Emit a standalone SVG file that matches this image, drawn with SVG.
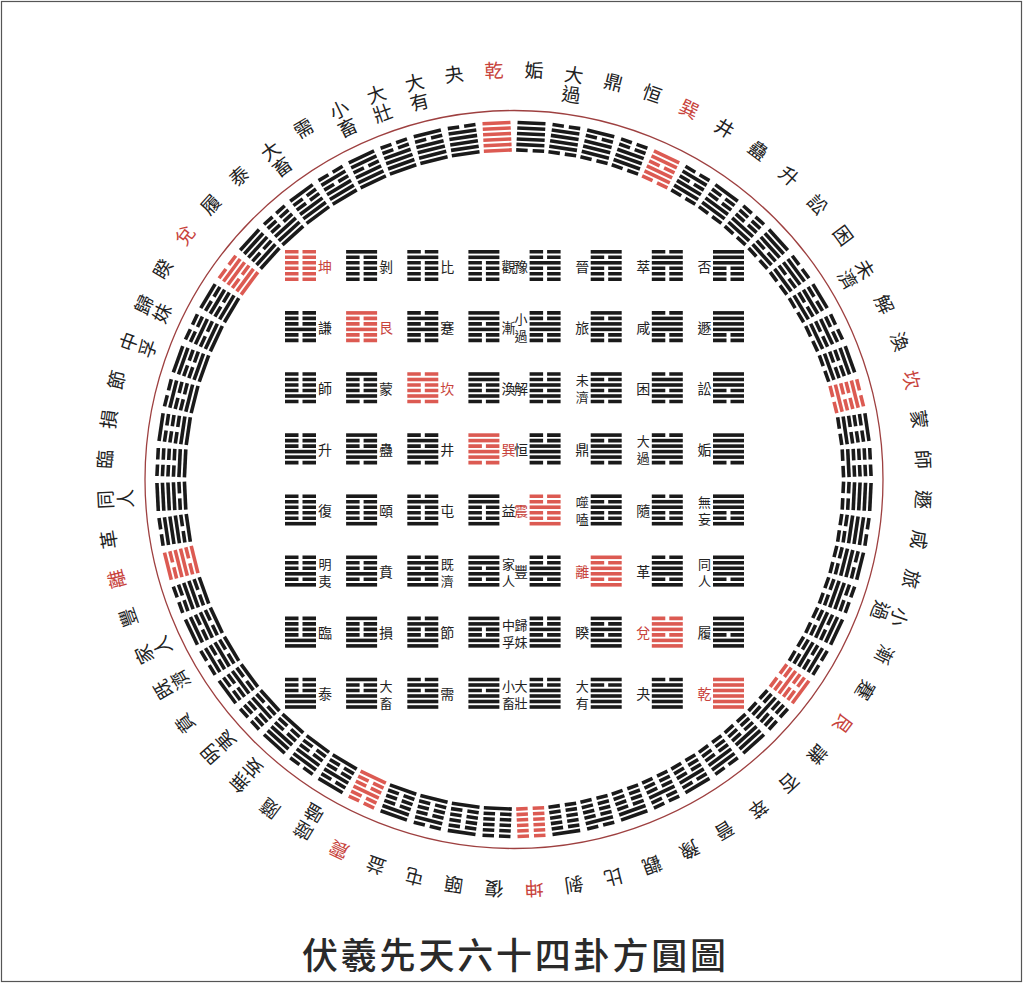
<svg xmlns="http://www.w3.org/2000/svg" xmlns:xlink="http://www.w3.org/1999/xlink" width="1023" height="983" viewBox="0 0 1023 983">
<style>
text{font-family:"Noto Sans CJK TC","Noto Sans CJK SC",sans-serif;text-anchor:middle;dominant-baseline:central;fill:#222}
.s{font-size:14px}
.s2{font-size:13px}
.c{font-size:19px}
.K{fill:#1a1a1a}
.R{fill:#dc5a52}
.R text{fill:#c8433c}
.t{font-size:36px;text-anchor:start;letter-spacing:2.8px;font-weight:500;fill:#2a2a2a}
</style>
<defs>
<path id="s1" d="M0 0h31v3.6H0z"/>
<path id="s0" d="M0 0h13.5v3.6H0zM17.5 0H31v3.6H17.5z"/>
<g id="s-k"><use href="#s0"/><use href="#s0" y="5.5"/><use href="#s0" y="11"/></g>
<g id="s-g"><use href="#s1"/><use href="#s0" y="5.5"/><use href="#s0" y="11"/></g>
<g id="s-c"><use href="#s0"/><use href="#s1" y="5.5"/><use href="#s0" y="11"/></g>
<g id="s-x"><use href="#s1"/><use href="#s1" y="5.5"/><use href="#s0" y="11"/></g>
<g id="s-z"><use href="#s0"/><use href="#s0" y="5.5"/><use href="#s1" y="11"/></g>
<g id="s-l"><use href="#s1"/><use href="#s0" y="5.5"/><use href="#s1" y="11"/></g>
<g id="s-d"><use href="#s0"/><use href="#s1" y="5.5"/><use href="#s1" y="11"/></g>
<g id="s-q"><use href="#s1"/><use href="#s1" y="5.5"/><use href="#s1" y="11"/></g>
<path id="c1" d="M-14 0h28v3.6h-28z"/>
<path id="c0" d="M-14 0h11.5v3.6h-11.5zM2.5 0H14v3.6H2.5z"/>
<g id="c-k"><use href="#c0"/><use href="#c0" y="5.5"/><use href="#c0" y="11"/></g>
<g id="c-g"><use href="#c1"/><use href="#c0" y="5.5"/><use href="#c0" y="11"/></g>
<g id="c-c"><use href="#c0"/><use href="#c1" y="5.5"/><use href="#c0" y="11"/></g>
<g id="c-x"><use href="#c1"/><use href="#c1" y="5.5"/><use href="#c0" y="11"/></g>
<g id="c-z"><use href="#c0"/><use href="#c0" y="5.5"/><use href="#c1" y="11"/></g>
<g id="c-l"><use href="#c1"/><use href="#c0" y="5.5"/><use href="#c1" y="11"/></g>
<g id="c-d"><use href="#c0"/><use href="#c1" y="5.5"/><use href="#c1" y="11"/></g>
<g id="c-q"><use href="#c1"/><use href="#c1" y="5.5"/><use href="#c1" y="11"/></g>
</defs>
<rect x="1.5" y="1.5" width="1020" height="980" fill="#fff" stroke="#555" stroke-width="1.2"/>
<g id="connectors"></g>
<circle id="ring" cx="514" cy="479.5" r="369" fill="none" stroke="#9e4040" stroke-width="1.3"/>

<g id="square">
<g id="s00" class="R" transform="translate(285 250)"><use href="#s-k"/><use href="#s-k" y="16.5"/><text class="s" x="40" y="15.5">坤</text></g>
<g id="s01" class="K" transform="translate(346.1 250)"><use href="#s-g"/><use href="#s-k" y="16.5"/><text class="s" x="40" y="15.5">剝</text></g>
<g id="s02" class="K" transform="translate(407.3 250)"><use href="#s-c"/><use href="#s-k" y="16.5"/><text class="s" x="40" y="15.5">比</text></g>
<g id="s03" class="K" transform="translate(468.4 250)"><use href="#s-x"/><use href="#s-k" y="16.5"/><text class="s" x="40" y="15.5">觀</text></g>
<g id="s04" class="K" transform="translate(529.6 250)"><use href="#s-z"/><use href="#s-k" y="16.5"/><text class="s" x="-8.5" y="15.5">豫</text></g>
<g id="s05" class="K" transform="translate(590.7 250)"><use href="#s-l"/><use href="#s-k" y="16.5"/><text class="s" x="-8.5" y="15.5">晉</text></g>
<g id="s06" class="K" transform="translate(651.8 250)"><use href="#s-d"/><use href="#s-k" y="16.5"/><text class="s" x="-8.5" y="15.5">萃</text></g>
<g id="s07" class="K" transform="translate(713 250)"><use href="#s-q"/><use href="#s-k" y="16.5"/><text class="s" x="-8.5" y="15.5">否</text></g>

<g id="s10" class="K" transform="translate(285 311.1)"><use href="#s-k"/><use href="#s-g" y="16.5"/><text class="s" x="40" y="15.5">謙</text></g>
<g id="s11" class="R" transform="translate(346.1 311.1)"><use href="#s-g"/><use href="#s-g" y="16.5"/><text class="s" x="40" y="15.5">艮</text></g>
<g id="s12" class="K" transform="translate(407.3 311.1)"><use href="#s-c"/><use href="#s-g" y="16.5"/><text class="s" x="40" y="15.5">蹇</text></g>
<g id="s13" class="K" transform="translate(468.4 311.1)"><use href="#s-x"/><use href="#s-g" y="16.5"/><text class="s" x="40" y="15.5">漸</text></g>
<g id="s14" class="K" transform="translate(529.6 311.1)"><use href="#s-z"/><use href="#s-g" y="16.5"/><text class="s2"><tspan x="-8.5" y="7">小</tspan><tspan x="-8.5" y="24">過</tspan></text></g>
<g id="s15" class="K" transform="translate(590.7 311.1)"><use href="#s-l"/><use href="#s-g" y="16.5"/><text class="s" x="-8.5" y="15.5">旅</text></g>
<g id="s16" class="K" transform="translate(651.8 311.1)"><use href="#s-d"/><use href="#s-g" y="16.5"/><text class="s" x="-8.5" y="15.5">咸</text></g>
<g id="s17" class="K" transform="translate(713 311.1)"><use href="#s-q"/><use href="#s-g" y="16.5"/><text class="s" x="-8.5" y="15.5">遯</text></g>

<g id="s20" class="K" transform="translate(285 372.2)"><use href="#s-k"/><use href="#s-c" y="16.5"/><text class="s" x="40" y="15.5">師</text></g>
<g id="s21" class="K" transform="translate(346.1 372.2)"><use href="#s-g"/><use href="#s-c" y="16.5"/><text class="s" x="40" y="15.5">蒙</text></g>
<g id="s22" class="R" transform="translate(407.3 372.2)"><use href="#s-c"/><use href="#s-c" y="16.5"/><text class="s" x="40" y="15.5">坎</text></g>
<g id="s23" class="K" transform="translate(468.4 372.2)"><use href="#s-x"/><use href="#s-c" y="16.5"/><text class="s" x="40" y="15.5">渙</text></g>
<g id="s24" class="K" transform="translate(529.6 372.2)"><use href="#s-z"/><use href="#s-c" y="16.5"/><text class="s" x="-8.5" y="15.5">解</text></g>
<g id="s25" class="K" transform="translate(590.7 372.2)"><use href="#s-l"/><use href="#s-c" y="16.5"/><text class="s2"><tspan x="-8.5" y="7">未</tspan><tspan x="-8.5" y="24">濟</tspan></text></g>
<g id="s26" class="K" transform="translate(651.8 372.2)"><use href="#s-d"/><use href="#s-c" y="16.5"/><text class="s" x="-8.5" y="15.5">困</text></g>
<g id="s27" class="K" transform="translate(713 372.2)"><use href="#s-q"/><use href="#s-c" y="16.5"/><text class="s" x="-8.5" y="15.5">訟</text></g>

<g id="s30" class="K" transform="translate(285 433.3)"><use href="#s-k"/><use href="#s-x" y="16.5"/><text class="s" x="40" y="15.5">升</text></g>
<g id="s31" class="K" transform="translate(346.1 433.3)"><use href="#s-g"/><use href="#s-x" y="16.5"/><text class="s" x="40" y="15.5">蠱</text></g>
<g id="s32" class="K" transform="translate(407.3 433.3)"><use href="#s-c"/><use href="#s-x" y="16.5"/><text class="s" x="40" y="15.5">井</text></g>
<g id="s33" class="R" transform="translate(468.4 433.3)"><use href="#s-x"/><use href="#s-x" y="16.5"/><text class="s" x="40" y="15.5">巽</text></g>
<g id="s34" class="K" transform="translate(529.6 433.3)"><use href="#s-z"/><use href="#s-x" y="16.5"/><text class="s" x="-8.5" y="15.5">恒</text></g>
<g id="s35" class="K" transform="translate(590.7 433.3)"><use href="#s-l"/><use href="#s-x" y="16.5"/><text class="s" x="-8.5" y="15.5">鼎</text></g>
<g id="s36" class="K" transform="translate(651.8 433.3)"><use href="#s-d"/><use href="#s-x" y="16.5"/><text class="s2"><tspan x="-8.5" y="7">大</tspan><tspan x="-8.5" y="24">過</tspan></text></g>
<g id="s37" class="K" transform="translate(713 433.3)"><use href="#s-q"/><use href="#s-x" y="16.5"/><text class="s" x="-8.5" y="15.5">姤</text></g>

<g id="s40" class="K" transform="translate(285 494.4)"><use href="#s-k"/><use href="#s-z" y="16.5"/><text class="s" x="40" y="15.5">復</text></g>
<g id="s41" class="K" transform="translate(346.1 494.4)"><use href="#s-g"/><use href="#s-z" y="16.5"/><text class="s" x="40" y="15.5">頤</text></g>
<g id="s42" class="K" transform="translate(407.3 494.4)"><use href="#s-c"/><use href="#s-z" y="16.5"/><text class="s" x="40" y="15.5">屯</text></g>
<g id="s43" class="K" transform="translate(468.4 494.4)"><use href="#s-x"/><use href="#s-z" y="16.5"/><text class="s" x="40" y="15.5">益</text></g>
<g id="s44" class="R" transform="translate(529.6 494.4)"><use href="#s-z"/><use href="#s-z" y="16.5"/><text class="s" x="-8.5" y="15.5">震</text></g>
<g id="s45" class="K" transform="translate(590.7 494.4)"><use href="#s-l"/><use href="#s-z" y="16.5"/><text class="s2"><tspan x="-8.5" y="7">噬</tspan><tspan x="-8.5" y="24">嗑</tspan></text></g>
<g id="s46" class="K" transform="translate(651.8 494.4)"><use href="#s-d"/><use href="#s-z" y="16.5"/><text class="s" x="-8.5" y="15.5">隨</text></g>
<g id="s47" class="K" transform="translate(713 494.4)"><use href="#s-q"/><use href="#s-z" y="16.5"/><text class="s2"><tspan x="-8.5" y="7">無</tspan><tspan x="-8.5" y="24">妄</tspan></text></g>

<g id="s50" class="K" transform="translate(285 555.5)"><use href="#s-k"/><use href="#s-l" y="16.5"/><text class="s2"><tspan x="40" y="7">明</tspan><tspan x="40" y="24">夷</tspan></text></g>
<g id="s51" class="K" transform="translate(346.1 555.5)"><use href="#s-g"/><use href="#s-l" y="16.5"/><text class="s" x="40" y="15.5">賁</text></g>
<g id="s52" class="K" transform="translate(407.3 555.5)"><use href="#s-c"/><use href="#s-l" y="16.5"/><text class="s2"><tspan x="40" y="7">既</tspan><tspan x="40" y="24">濟</tspan></text></g>
<g id="s53" class="K" transform="translate(468.4 555.5)"><use href="#s-x"/><use href="#s-l" y="16.5"/><text class="s2"><tspan x="40" y="7">家</tspan><tspan x="40" y="24">人</tspan></text></g>
<g id="s54" class="K" transform="translate(529.6 555.5)"><use href="#s-z"/><use href="#s-l" y="16.5"/><text class="s" x="-8.5" y="15.5">豐</text></g>
<g id="s55" class="R" transform="translate(590.7 555.5)"><use href="#s-l"/><use href="#s-l" y="16.5"/><text class="s" x="-8.5" y="15.5">離</text></g>
<g id="s56" class="K" transform="translate(651.8 555.5)"><use href="#s-d"/><use href="#s-l" y="16.5"/><text class="s" x="-8.5" y="15.5">革</text></g>
<g id="s57" class="K" transform="translate(713 555.5)"><use href="#s-q"/><use href="#s-l" y="16.5"/><text class="s2"><tspan x="-8.5" y="7">同</tspan><tspan x="-8.5" y="24">人</tspan></text></g>

<g id="s60" class="K" transform="translate(285 616.6)"><use href="#s-k"/><use href="#s-d" y="16.5"/><text class="s" x="40" y="15.5">臨</text></g>
<g id="s61" class="K" transform="translate(346.1 616.6)"><use href="#s-g"/><use href="#s-d" y="16.5"/><text class="s" x="40" y="15.5">損</text></g>
<g id="s62" class="K" transform="translate(407.3 616.6)"><use href="#s-c"/><use href="#s-d" y="16.5"/><text class="s" x="40" y="15.5">節</text></g>
<g id="s63" class="K" transform="translate(468.4 616.6)"><use href="#s-x"/><use href="#s-d" y="16.5"/><text class="s2"><tspan x="40" y="7">中</tspan><tspan x="40" y="24">孚</tspan></text></g>
<g id="s64" class="K" transform="translate(529.6 616.6)"><use href="#s-z"/><use href="#s-d" y="16.5"/><text class="s2"><tspan x="-8.5" y="7">歸</tspan><tspan x="-8.5" y="24">妹</tspan></text></g>
<g id="s65" class="K" transform="translate(590.7 616.6)"><use href="#s-l"/><use href="#s-d" y="16.5"/><text class="s" x="-8.5" y="15.5">睽</text></g>
<g id="s66" class="R" transform="translate(651.8 616.6)"><use href="#s-d"/><use href="#s-d" y="16.5"/><text class="s" x="-8.5" y="15.5">兌</text></g>
<g id="s67" class="K" transform="translate(713 616.6)"><use href="#s-q"/><use href="#s-d" y="16.5"/><text class="s" x="-8.5" y="15.5">履</text></g>

<g id="s70" class="K" transform="translate(285 677.7)"><use href="#s-k"/><use href="#s-q" y="16.5"/><text class="s" x="40" y="15.5">泰</text></g>
<g id="s71" class="K" transform="translate(346.1 677.7)"><use href="#s-g"/><use href="#s-q" y="16.5"/><text class="s2"><tspan x="40" y="7">大</tspan><tspan x="40" y="24">畜</tspan></text></g>
<g id="s72" class="K" transform="translate(407.3 677.7)"><use href="#s-c"/><use href="#s-q" y="16.5"/><text class="s" x="40" y="15.5">需</text></g>
<g id="s73" class="K" transform="translate(468.4 677.7)"><use href="#s-x"/><use href="#s-q" y="16.5"/><text class="s2"><tspan x="40" y="7">小</tspan><tspan x="40" y="24">畜</tspan></text></g>
<g id="s74" class="K" transform="translate(529.6 677.7)"><use href="#s-z"/><use href="#s-q" y="16.5"/><text class="s2"><tspan x="-8.5" y="7">大</tspan><tspan x="-8.5" y="24">壯</tspan></text></g>
<g id="s75" class="K" transform="translate(590.7 677.7)"><use href="#s-l"/><use href="#s-q" y="16.5"/><text class="s2"><tspan x="-8.5" y="7">大</tspan><tspan x="-8.5" y="24">有</tspan></text></g>
<g id="s76" class="K" transform="translate(651.8 677.7)"><use href="#s-d"/><use href="#s-q" y="16.5"/><text class="s" x="-8.5" y="15.5">夬</text></g>
<g id="s77" class="R" transform="translate(713 677.7)"><use href="#s-q"/><use href="#s-q" y="16.5"/><text class="s" x="-8.5" y="15.5">乾</text></g>
</g>

<g id="circle" transform="translate(514 479.5)">
<g id="cL0" class="R" transform="rotate(-2.8125)"><use href="#c-q" y="-358.6"/><use href="#c-q" y="-342.1"/><text class="c" y="-411">乾</text></g>
<g id="cL1" class="K" transform="rotate(-8.4375)"><use href="#c-d" y="-358.6"/><use href="#c-q" y="-342.1"/><text class="c" y="-411">夬</text></g>
<g id="cL2" class="K" transform="rotate(-14.0625)"><use href="#c-l" y="-358.6"/><use href="#c-q" y="-342.1"/><text class="c"><tspan x="0" y="-411">大</tspan><tspan x="0" y="-391">有</tspan></text></g>
<g id="cL3" class="K" transform="rotate(-19.6875)"><use href="#c-z" y="-358.6"/><use href="#c-q" y="-342.1"/><text class="c"><tspan x="0" y="-411">大</tspan><tspan x="0" y="-391">壯</tspan></text></g>
<g id="cL4" class="K" transform="rotate(-25.3125)"><use href="#c-x" y="-358.6"/><use href="#c-q" y="-342.1"/><text class="c"><tspan x="0" y="-411">小</tspan><tspan x="0" y="-391">畜</tspan></text></g>
<g id="cL5" class="K" transform="rotate(-30.9375)"><use href="#c-c" y="-358.6"/><use href="#c-q" y="-342.1"/><text class="c" y="-411">需</text></g>
<g id="cL6" class="K" transform="rotate(-36.5625)"><use href="#c-g" y="-358.6"/><use href="#c-q" y="-342.1"/><text class="c"><tspan x="0" y="-411">大</tspan><tspan x="0" y="-391">畜</tspan></text></g>
<g id="cL7" class="K" transform="rotate(-42.1875)"><use href="#c-k" y="-358.6"/><use href="#c-q" y="-342.1"/><text class="c" y="-411">泰</text></g>
<g id="cL8" class="K" transform="rotate(-47.8125)"><use href="#c-q" y="-358.6"/><use href="#c-d" y="-342.1"/><text class="c" y="-411">履</text></g>
<g id="cL9" class="R" transform="rotate(-53.4375)"><use href="#c-d" y="-358.6"/><use href="#c-d" y="-342.1"/><text class="c" y="-411">兌</text></g>
<g id="cL10" class="K" transform="rotate(-59.0625)"><use href="#c-l" y="-358.6"/><use href="#c-d" y="-342.1"/><text class="c" y="-411">睽</text></g>
<g id="cL11" class="K" transform="rotate(-64.6875)"><use href="#c-z" y="-358.6"/><use href="#c-d" y="-342.1"/><text class="c"><tspan x="0" y="-411">歸</tspan><tspan x="0" y="-391">妹</tspan></text></g>
<g id="cL12" class="K" transform="rotate(-70.3125)"><use href="#c-x" y="-358.6"/><use href="#c-d" y="-342.1"/><text class="c"><tspan x="0" y="-411">中</tspan><tspan x="0" y="-391">孚</tspan></text></g>
<g id="cL13" class="K" transform="rotate(-75.9375)"><use href="#c-c" y="-358.6"/><use href="#c-d" y="-342.1"/><text class="c" y="-411">節</text></g>
<g id="cL14" class="K" transform="rotate(-81.5625)"><use href="#c-g" y="-358.6"/><use href="#c-d" y="-342.1"/><text class="c" y="-411">損</text></g>
<g id="cL15" class="K" transform="rotate(-87.1875)"><use href="#c-k" y="-358.6"/><use href="#c-d" y="-342.1"/><text class="c" y="-411">臨</text></g>
<g id="cL16" class="K" transform="rotate(-92.8125)"><use href="#c-q" y="-358.6"/><use href="#c-l" y="-342.1"/><text class="c"><tspan x="0" y="-411">同</tspan><tspan x="0" y="-391">人</tspan></text></g>
<g id="cL17" class="K" transform="rotate(-98.4375)"><use href="#c-d" y="-358.6"/><use href="#c-l" y="-342.1"/><text class="c" y="-411">革</text></g>
<g id="cL18" class="R" transform="rotate(-104.0625)"><use href="#c-l" y="-358.6"/><use href="#c-l" y="-342.1"/><text class="c" y="-411">離</text></g>
<g id="cL19" class="K" transform="rotate(-109.6875)"><use href="#c-z" y="-358.6"/><use href="#c-l" y="-342.1"/><text class="c" y="-411">豐</text></g>
<g id="cL20" class="K" transform="rotate(-115.3125)"><use href="#c-x" y="-358.6"/><use href="#c-l" y="-342.1"/><text class="c"><tspan x="0" y="-411">家</tspan><tspan x="0" y="-391">人</tspan></text></g>
<g id="cL21" class="K" transform="rotate(-120.9375)"><use href="#c-c" y="-358.6"/><use href="#c-l" y="-342.1"/><text class="c"><tspan x="0" y="-411">既</tspan><tspan x="0" y="-391">濟</tspan></text></g>
<g id="cL22" class="K" transform="rotate(-126.5625)"><use href="#c-g" y="-358.6"/><use href="#c-l" y="-342.1"/><text class="c" y="-411">賁</text></g>
<g id="cL23" class="K" transform="rotate(-132.1875)"><use href="#c-k" y="-358.6"/><use href="#c-l" y="-342.1"/><text class="c"><tspan x="0" y="-411">明</tspan><tspan x="0" y="-391">夷</tspan></text></g>
<g id="cL24" class="K" transform="rotate(-137.8125)"><use href="#c-q" y="-358.6"/><use href="#c-z" y="-342.1"/><text class="c"><tspan x="0" y="-411">無</tspan><tspan x="0" y="-391">妄</tspan></text></g>
<g id="cL25" class="K" transform="rotate(-143.4375)"><use href="#c-d" y="-358.6"/><use href="#c-z" y="-342.1"/><text class="c" y="-411">隨</text></g>
<g id="cL26" class="K" transform="rotate(-149.0625)"><use href="#c-l" y="-358.6"/><use href="#c-z" y="-342.1"/><text class="c"><tspan x="0" y="-411">噬</tspan><tspan x="0" y="-391">嗑</tspan></text></g>
<g id="cL27" class="R" transform="rotate(-154.6875)"><use href="#c-z" y="-358.6"/><use href="#c-z" y="-342.1"/><text class="c" y="-411">震</text></g>
<g id="cL28" class="K" transform="rotate(-160.3125)"><use href="#c-x" y="-358.6"/><use href="#c-z" y="-342.1"/><text class="c" y="-411">益</text></g>
<g id="cL29" class="K" transform="rotate(-165.9375)"><use href="#c-c" y="-358.6"/><use href="#c-z" y="-342.1"/><text class="c" y="-411">屯</text></g>
<g id="cL30" class="K" transform="rotate(-171.5625)"><use href="#c-g" y="-358.6"/><use href="#c-z" y="-342.1"/><text class="c" y="-411">頤</text></g>
<g id="cL31" class="K" transform="rotate(-177.1875)"><use href="#c-k" y="-358.6"/><use href="#c-z" y="-342.1"/><text class="c" y="-411">復</text></g>

<g id="cR0" class="K" transform="rotate(2.8125)"><use href="#c-q" y="-358.6"/><use href="#c-x" y="-342.1"/><text class="c" y="-411">姤</text></g>
<g id="cR1" class="K" transform="rotate(8.4375)"><use href="#c-d" y="-358.6"/><use href="#c-x" y="-342.1"/><text class="c"><tspan x="0" y="-411">大</tspan><tspan x="0" y="-391">過</tspan></text></g>
<g id="cR2" class="K" transform="rotate(14.0625)"><use href="#c-l" y="-358.6"/><use href="#c-x" y="-342.1"/><text class="c" y="-411">鼎</text></g>
<g id="cR3" class="K" transform="rotate(19.6875)"><use href="#c-z" y="-358.6"/><use href="#c-x" y="-342.1"/><text class="c" y="-411">恒</text></g>
<g id="cR4" class="R" transform="rotate(25.3125)"><use href="#c-x" y="-358.6"/><use href="#c-x" y="-342.1"/><text class="c" y="-411">巽</text></g>
<g id="cR5" class="K" transform="rotate(30.9375)"><use href="#c-c" y="-358.6"/><use href="#c-x" y="-342.1"/><text class="c" y="-411">井</text></g>
<g id="cR6" class="K" transform="rotate(36.5625)"><use href="#c-g" y="-358.6"/><use href="#c-x" y="-342.1"/><text class="c" y="-411">蠱</text></g>
<g id="cR7" class="K" transform="rotate(42.1875)"><use href="#c-k" y="-358.6"/><use href="#c-x" y="-342.1"/><text class="c" y="-411">升</text></g>
<g id="cR8" class="K" transform="rotate(47.8125)"><use href="#c-q" y="-358.6"/><use href="#c-c" y="-342.1"/><text class="c" y="-411">訟</text></g>
<g id="cR9" class="K" transform="rotate(53.4375)"><use href="#c-d" y="-358.6"/><use href="#c-c" y="-342.1"/><text class="c" y="-411">困</text></g>
<g id="cR10" class="K" transform="rotate(59.0625)"><use href="#c-l" y="-358.6"/><use href="#c-c" y="-342.1"/><text class="c"><tspan x="0" y="-411">未</tspan><tspan x="0" y="-391">濟</tspan></text></g>
<g id="cR11" class="K" transform="rotate(64.6875)"><use href="#c-z" y="-358.6"/><use href="#c-c" y="-342.1"/><text class="c" y="-411">解</text></g>
<g id="cR12" class="K" transform="rotate(70.3125)"><use href="#c-x" y="-358.6"/><use href="#c-c" y="-342.1"/><text class="c" y="-411">渙</text></g>
<g id="cR13" class="R" transform="rotate(75.9375)"><use href="#c-c" y="-358.6"/><use href="#c-c" y="-342.1"/><text class="c" y="-411">坎</text></g>
<g id="cR14" class="K" transform="rotate(81.5625)"><use href="#c-g" y="-358.6"/><use href="#c-c" y="-342.1"/><text class="c" y="-411">蒙</text></g>
<g id="cR15" class="K" transform="rotate(87.1875)"><use href="#c-k" y="-358.6"/><use href="#c-c" y="-342.1"/><text class="c" y="-411">師</text></g>
<g id="cR16" class="K" transform="rotate(92.8125)"><use href="#c-q" y="-358.6"/><use href="#c-g" y="-342.1"/><text class="c" y="-411">遯</text></g>
<g id="cR17" class="K" transform="rotate(98.4375)"><use href="#c-d" y="-358.6"/><use href="#c-g" y="-342.1"/><text class="c" y="-411">咸</text></g>
<g id="cR18" class="K" transform="rotate(104.0625)"><use href="#c-l" y="-358.6"/><use href="#c-g" y="-342.1"/><text class="c" y="-411">旅</text></g>
<g id="cR19" class="K" transform="rotate(109.6875)"><use href="#c-z" y="-358.6"/><use href="#c-g" y="-342.1"/><text class="c"><tspan x="0" y="-411">小</tspan><tspan x="0" y="-391">過</tspan></text></g>
<g id="cR20" class="K" transform="rotate(115.3125)"><use href="#c-x" y="-358.6"/><use href="#c-g" y="-342.1"/><text class="c" y="-411">漸</text></g>
<g id="cR21" class="K" transform="rotate(120.9375)"><use href="#c-c" y="-358.6"/><use href="#c-g" y="-342.1"/><text class="c" y="-411">蹇</text></g>
<g id="cR22" class="R" transform="rotate(126.5625)"><use href="#c-g" y="-358.6"/><use href="#c-g" y="-342.1"/><text class="c" y="-411">艮</text></g>
<g id="cR23" class="K" transform="rotate(132.1875)"><use href="#c-k" y="-358.6"/><use href="#c-g" y="-342.1"/><text class="c" y="-411">謙</text></g>
<g id="cR24" class="K" transform="rotate(137.8125)"><use href="#c-q" y="-358.6"/><use href="#c-k" y="-342.1"/><text class="c" y="-411">否</text></g>
<g id="cR25" class="K" transform="rotate(143.4375)"><use href="#c-d" y="-358.6"/><use href="#c-k" y="-342.1"/><text class="c" y="-411">萃</text></g>
<g id="cR26" class="K" transform="rotate(149.0625)"><use href="#c-l" y="-358.6"/><use href="#c-k" y="-342.1"/><text class="c" y="-411">晉</text></g>
<g id="cR27" class="K" transform="rotate(154.6875)"><use href="#c-z" y="-358.6"/><use href="#c-k" y="-342.1"/><text class="c" y="-411">豫</text></g>
<g id="cR28" class="K" transform="rotate(160.3125)"><use href="#c-x" y="-358.6"/><use href="#c-k" y="-342.1"/><text class="c" y="-411">觀</text></g>
<g id="cR29" class="K" transform="rotate(165.9375)"><use href="#c-c" y="-358.6"/><use href="#c-k" y="-342.1"/><text class="c" y="-411">比</text></g>
<g id="cR30" class="K" transform="rotate(171.5625)"><use href="#c-g" y="-358.6"/><use href="#c-k" y="-342.1"/><text class="c" y="-411">剝</text></g>
<g id="cR31" class="R" transform="rotate(177.1875)"><use href="#c-k" y="-358.6"/><use href="#c-k" y="-342.1"/><text class="c" y="-411">坤</text></g>
</g>

<g id="title"><text class="t" x="302" y="953">伏羲先天六十四卦方圓圖</text></g>
</svg>
